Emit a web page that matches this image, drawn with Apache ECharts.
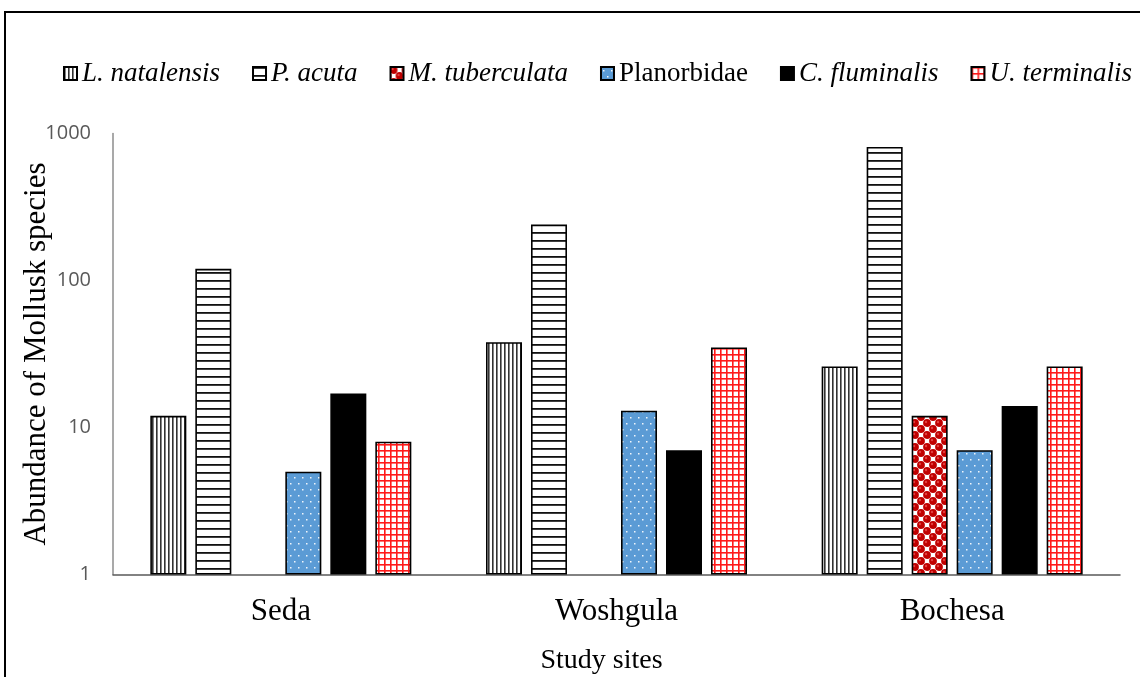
<!DOCTYPE html>
<html>
<head>
<meta charset="utf-8">
<title>Abundance of Mollusk species by study site</title>
<script src="https://cdn.jsdelivr.net/npm/echarts@6/dist/echarts.min.js"></script>
<style>
  html, body { margin: 0; padding: 0; background: #fff; }
  #chart { width: 1140px; height: 677px; }
</style>
</head>
<body>
<div id="chart"></div>
<script>
// Study sites (categories)
const sites = ['Seda', 'Woshgula', 'Bochesa'];

// Abundance per species at each site (null = not recorded)
const lNatalensis  = [12, 38, 26];
const pAcuta       = [120, 240, 810];
const mTuberculata = [null, null, 12];
const planorbidae  = [5, 13, 7];
const cFluminalis  = [17, 7, 14];
const uTerminalis  = [8, 35, 26];

const speciesNames = ['L. natalensis', 'P. acuta', 'M. tuberculata', 'Planorbidae', 'C. fluminalis', 'U. terminalis'];
const speciesData  = [lNatalensis, pAcuta, mTuberculata, planorbidae, cFluminalis, uTerminalis];

// ---- fill patterns -------------------------------------------------------
function tile(w, h, draw) {
  const c = document.createElement('canvas');
  c.width = w; c.height = h;
  const g = c.getContext('2d');
  draw(g, w, h);
  return { image: c, repeat: 'repeat' };
}

// narrow vertical stripes
const vStripes = tile(4, 4, (g) => {
  g.fillStyle = '#fff'; g.fillRect(0, 0, 4, 4);
  g.fillStyle = '#333'; g.fillRect(0, 0, 1.6, 4);
});
// horizontal stripes
const hStripes = tile(8, 8, (g) => {
  g.fillStyle = '#fff'; g.fillRect(0, 0, 8, 8);
  g.fillStyle = '#111'; g.fillRect(0, 0, 8, 1.8);
});
// red spheres on white
const spheres = tile(12, 12, (g) => {
  g.fillStyle = '#fff'; g.fillRect(0, 0, 12, 12);
  g.fillStyle = '#c00000';
  [[3, 3], [9, 9], [-3, 9], [15, 3], [9, -3], [3, 15]].forEach(([x, y]) => {
    g.beginPath(); g.arc(x, y, 3.9, 0, Math.PI * 2); g.fill();
  });
  g.fillStyle = '#e04040';
  [[2, 2], [8, 8]].forEach(([x, y]) => {
    g.beginPath(); g.arc(x, y, 1.2, 0, Math.PI * 2); g.fill();
  });
});
// blue with small white dots
const dots = tile(8, 12, (g) => {
  g.fillStyle = '#5b9bd5'; g.fillRect(0, 0, 8, 12);
  g.fillStyle = 'rgba(255,255,255,0.9)';
  g.fillRect(2, 3, 1.5, 1.5);
  g.fillRect(6, 9, 1.5, 1.5);
});
// red grid on white
const grid = tile(6, 6, (g) => {
  g.fillStyle = '#fff'; g.fillRect(0, 0, 6, 6);
  g.fillStyle = '#ff1a1a';
  g.fillRect(0, 0, 1.6, 6);
  g.fillRect(0, 0, 6, 1.6);
});

const fills = [vStripes, hStripes, spheres, dots, '#000', grid];

const serif = '"Liberation Serif", "Times New Roman", serif';

const series = speciesNames.map((name, i) => ({
  name: name,
  type: 'bar',
  data: speciesData[i],
  barWidth: 36,
  barGap: '25%',
  itemStyle: {
    color: fills[i],
    borderColor: '#000',
    borderWidth: 1.6
  }
}));

const chart = echarts.init(document.getElementById('chart'), null, { renderer: 'canvas' });

chart.setOption({
  backgroundColor: '#fff',
  animation: false,
  legend: {
    top: 55,
    left: 58,
    itemWidth: 13,
    itemHeight: 13,
    itemGap: 32,
    icon: 'rect',
    data: speciesNames,
    formatter: (name) => name === 'Planorbidae' ? '{n|' + name + '}' : '{i|' + name + '}',
    textStyle: {
      fontFamily: serif,
      fontSize: 27,
      color: '#000',
      rich: {
        i: { fontFamily: serif, fontSize: 27, fontStyle: 'italic', color: '#000' },
        n: { fontFamily: serif, fontSize: 27, color: '#000' }
      }
    }
  },
  grid: {
    left: 113,
    right: 20,
    top: 133.5,
    bottom: 102.5,
    containLabel: false,
    outerBoundsMode: 'none'
  },
  xAxis: {
    type: 'category',
    data: sites,
    name: 'Study sites',
    nameLocation: 'middle',
    nameGap: 72,
    nameMoveOverlap: false,
    nameTextStyle: { fontFamily: serif, fontSize: 28, color: '#000', padding: [0, 30, 0, 0] },
    axisLine: { lineStyle: { color: '#595959', width: 1.5 } },
    axisTick: { show: false },
    axisLabel: { fontFamily: serif, fontSize: 31, color: '#000', margin: 22 }
  },
  yAxis: {
    type: 'log',
    logBase: 10,
    min: 1,
    max: 1000,
    name: 'Abundance of Mollusk species',
    nameLocation: 'middle',
    nameGap: 61,
    nameMoveOverlap: false,
    nameTextStyle: { fontFamily: serif, fontSize: 31, color: '#000' },
    axisLine: { show: true, lineStyle: { color: '#8c8c8c', width: 1.5 } },
    axisTick: { show: false },
    splitLine: { show: false },
    axisLabel: {
      fontFamily: '"Open Sans", sans-serif',
      fontSize: 20,
      color: '#595959',
      margin: 22,
      formatter: (v) => String(Math.round(v))
    }
  },
  graphic: [{
    type: 'polyline',
    silent: true,
    shape: { points: [[1140, 12], [5, 12], [5, 677]] },
    style: { stroke: '#000', lineWidth: 2, fill: null }
  }],
  series: series
});
</script>
</body>
</html>
